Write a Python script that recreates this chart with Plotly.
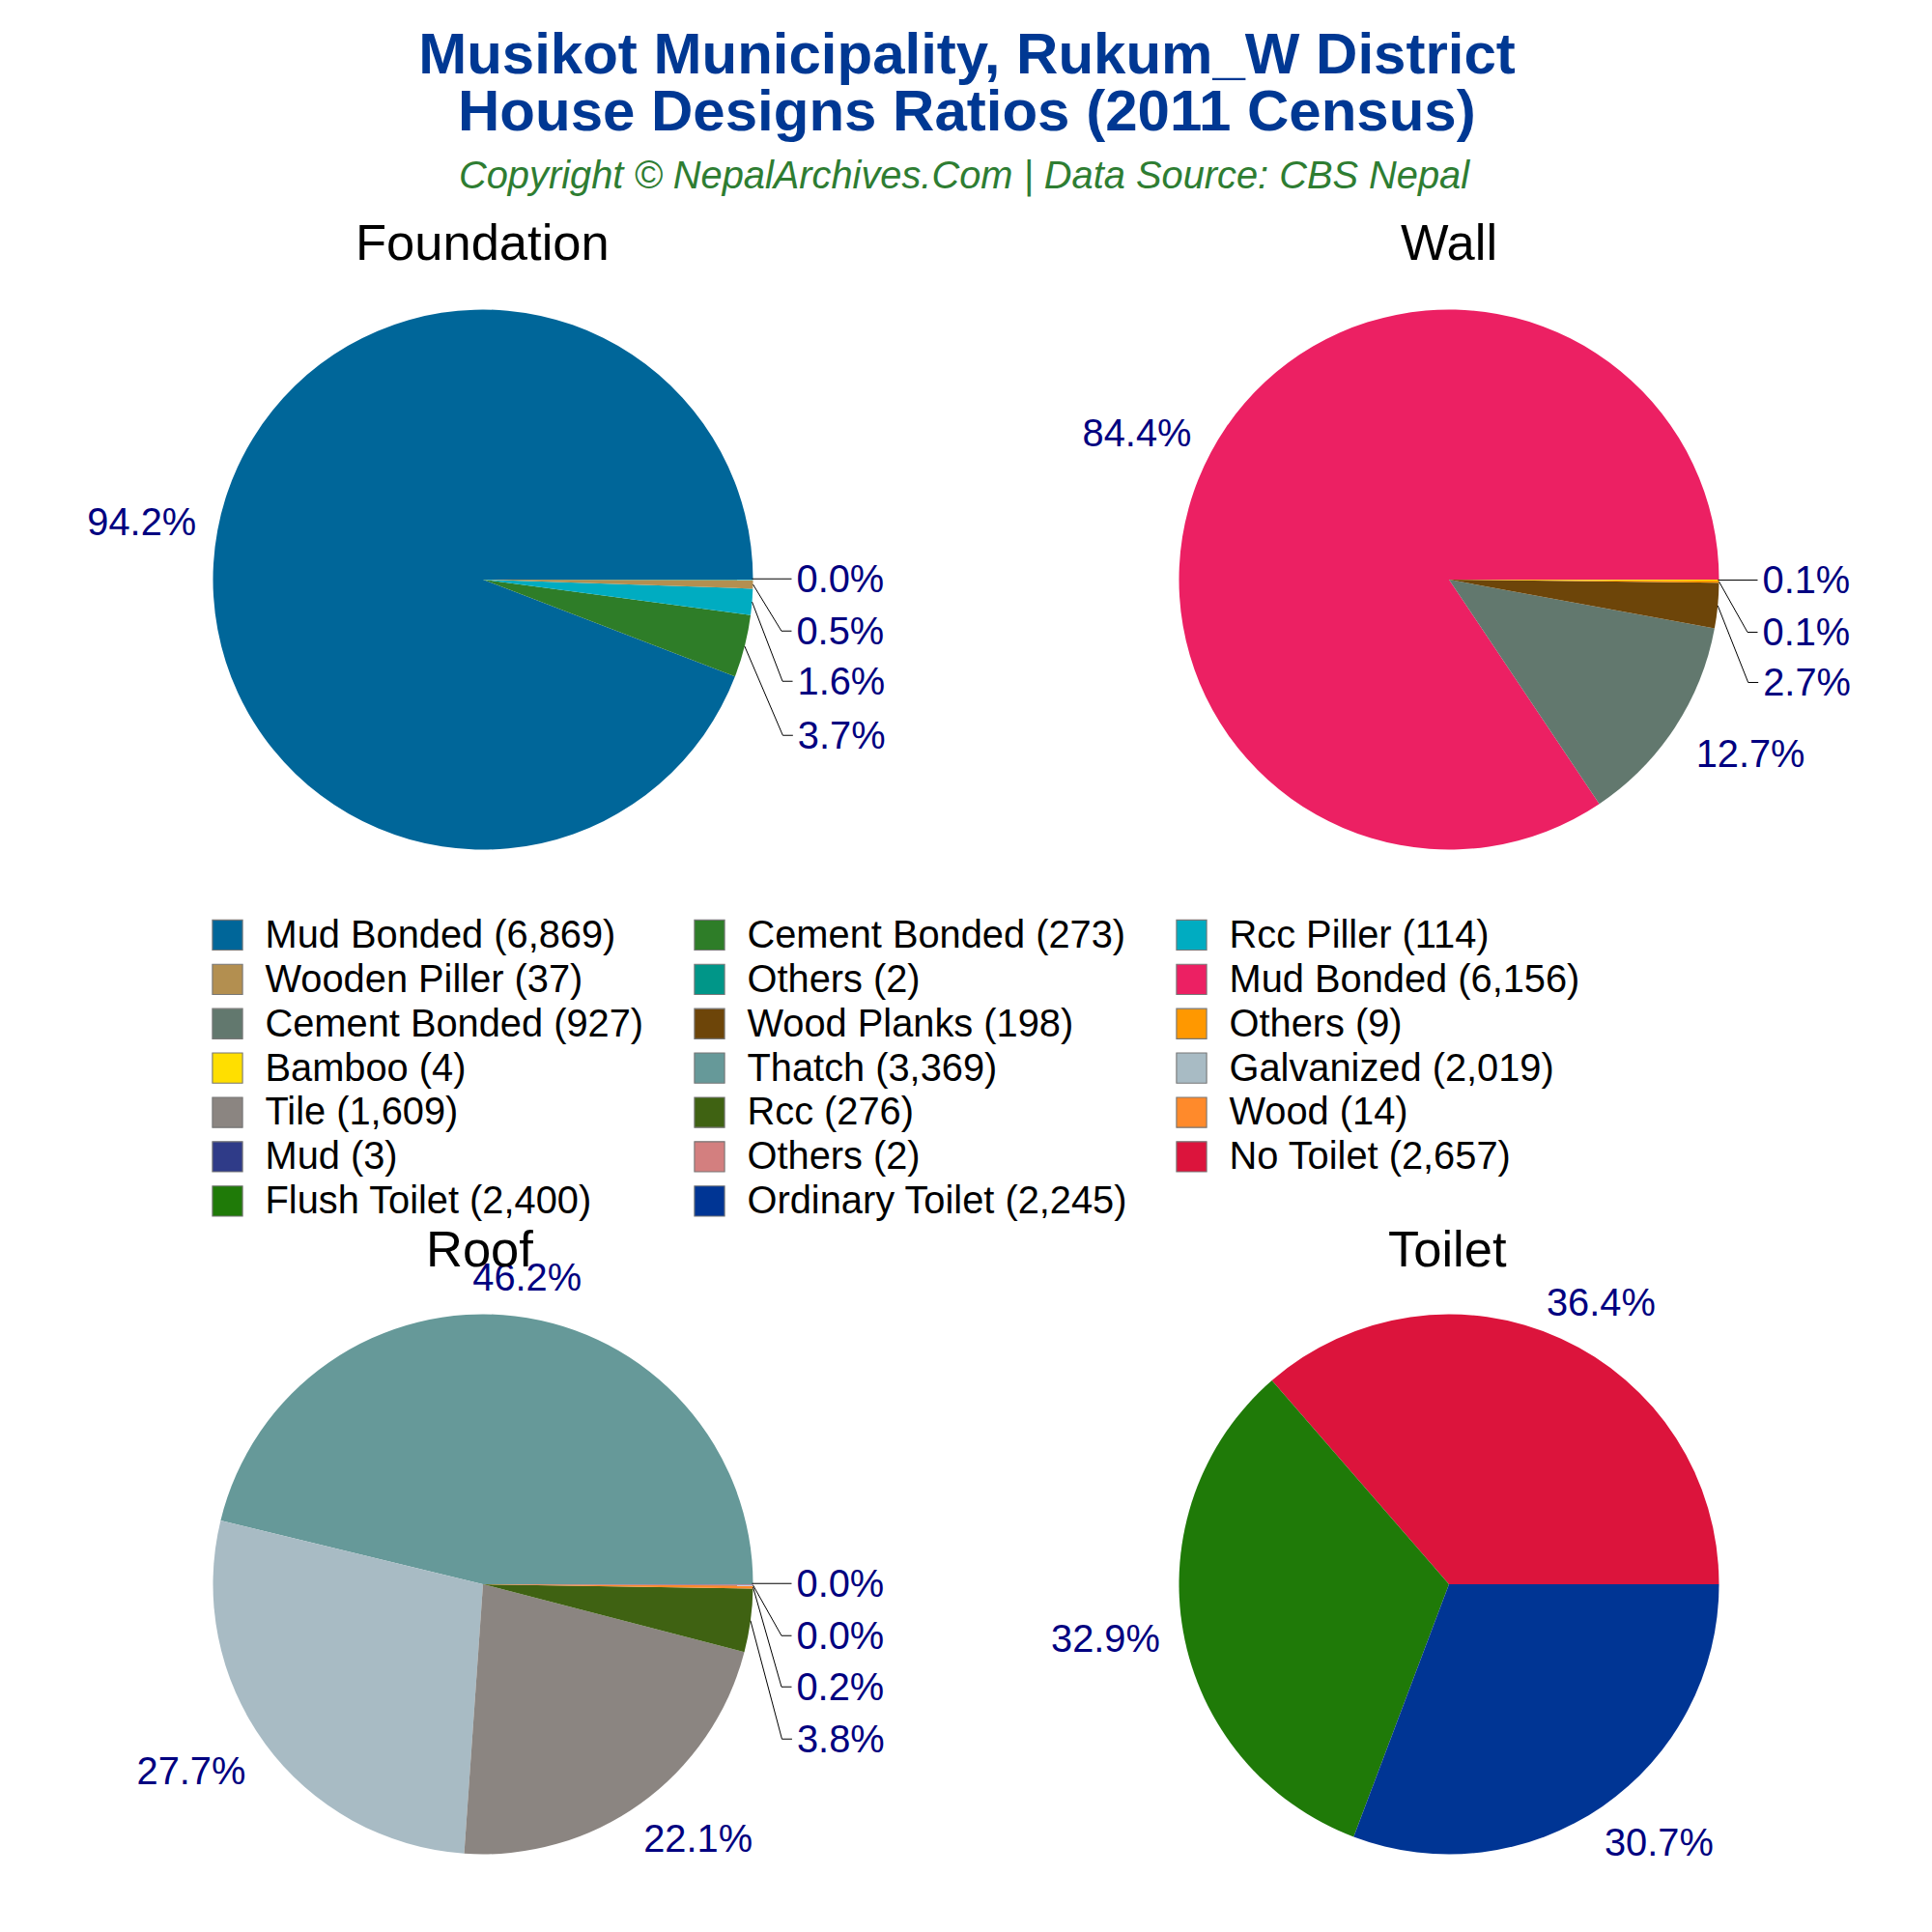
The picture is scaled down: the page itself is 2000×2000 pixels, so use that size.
import json
import plotly.graph_objects as go

title_line1 = "Musikot Municipality, Rukum_W District"
title_line2 = "House Designs Ratios (2011 Census)"
subtitle = "Copyright © NepalArchives.Com | Data Source: CBS Nepal"

foundation_labels = ["Mud Bonded (6,869)", "Cement Bonded (273)", "Rcc Piller (114)", "Wooden Piller (37)", "Others (2)"]
foundation_values = [6869, 273, 114, 37, 2]
foundation_colors = ["#006699", "#2E7D28", "#00ACC1", "#B38F50", "#009688"]

wall_labels = ["Mud Bonded (6,156)", "Cement Bonded (927)", "Wood Planks (198)", "Others (9)", "Bamboo (4)"]
wall_values = [6156, 927, 198, 9, 4]
wall_colors = ["#EC2063", "#62786E", "#6D4509", "#FF9800", "#FFDF00"]

roof_labels = ["Thatch (3,369)", "Galvanized (2,019)", "Tile (1,609)", "Rcc (276)", "Wood (14)", "Mud (3)", "Others (2)"]
roof_values = [3369, 2019, 1609, 276, 14, 3, 2]
roof_colors = ["#669999", "#A8BBC4", "#8B8581", "#3F6212", "#FF8A2B", "#2F3B88", "#D37F7F"]

toilet_labels = ["No Toilet (2,657)", "Flush Toilet (2,400)", "Ordinary Toilet (2,245)"]
toilet_values = [2657, 2400, 2245]
toilet_colors = ["#DC143C", "#1F7A08", "#003594"]

# Outward nudges of plotly's own percent labels, in slice order: [dx, dy, has connector]
foundation_nudges = [[-11, -8, 0], [44, 29, 1], [36, 17, 1], [34, 9, 1], [34, -1, 1]]
wall_nudges = [[-9, -16, 0], [11, 20, 0], [36, 18, 1], [34, 10, 1], [34, 0, 1]]
roof_nudges = [[-55, -19, 0], [-9, 20, 0], [-8, 22, 0], [37, 28, 1], [34, 18, 1], [34, 9, 1], [34, -1, 1]]
toilet_nudges = [[-26, -19, 0], [-13, 6, 0], [-9, 22, 0]]

FONT = "Liberation Sans"
W, H = 2000, 2000
ML, MR = 160, 160
GW = W - ML - MR
R = 279.5
CX = [500, 1500]
CY = [600, 1640]


def px(x):
    return (x - ML) / GW


def py(y):
    return 1 - y / H


seen = set()


def legend_text(label):
    key = label
    while key in seen:
        key += " "
    seen.add(key)
    return f"<span style='font-size:39.8px'>{label}</span>" + key[len(label):]


def pie(name, labels, values, colors, cx, cy):
    n = len(values)
    # plotly lays a counterclockwise pie so its first slice ends at the rotation angle;
    # the reference's first slice starts at 3 o'clock.
    rotation = 90 - 360 * values[0] / sum(values)
    return go.Pie(
        name=name,
        labels=[legend_text(l) for l in labels],
        values=values,
        marker=dict(colors=colors, line=dict(width=0)),
        sort=False,
        direction="counterclockwise",
        rotation=rotation,
        textposition="outside",
        texttemplate="%{percent:.1%}",
        textfont=dict(family=FONT, size=[39.8] * n, color=["#000080"] * n),
        domain=dict(x=[px(cx - R), px(cx + R)], y=[py(cy + R), py(cy - R)]),
        showlegend=True,
        hoverinfo="label+percent",
    )


fig = go.Figure([
    pie("Foundation", foundation_labels, foundation_values, foundation_colors, CX[0], CY[0]),
    pie("Wall", wall_labels, wall_values, wall_colors, CX[1], CY[0]),
    pie("Roof", roof_labels, roof_values, roof_colors, CX[0], CY[1]),
    pie("Toilet", toilet_labels, toilet_values, toilet_colors, CX[1], CY[1]),
])


def note(text, x, y, size, color="#000000"):
    return dict(text=text, x=px(x), y=py(y), xref="paper", yref="paper", xanchor="center", yanchor="middle",
                showarrow=False, font=dict(family=FONT, size=size, color=color))


annotations = [
    note(f"<b>{title_line2}</b>", 1001, 115, 60, "#003893"),
    note(f"<i>{subtitle}</i>", 998, 182, 39.8, "#2E7D32"),
    note("Foundation", 499, 251, 52.5),
    note("Wall", 1500, 251, 52.5),
    note("Roof", 496, 1292, 52.5),
    note("Toilet", 1498, 1292, 52.5),
]

fig.update_layout(
    width=W, height=H,
    margin=dict(l=ML, r=MR, t=0, b=0, pad=0),
    paper_bgcolor="#ffffff",
    font=dict(family=FONT, color="#000000"),
    title=dict(text=f"<b>{title_line1}</b>", x=px(1001), xref="paper", xanchor="center",
               y=py(55), yref="container", yanchor="middle",
               font=dict(family=FONT, size=60, color="#003893")),
    annotations=annotations,
    legend=dict(
        orientation="h", x=px(196.5), y=py(940), xanchor="left", yanchor="top",
        font=dict(family=FONT, size=33, color="#000000"),
        bgcolor="rgba(0,0,0,0)", borderwidth=0,
        itemwidth=68, entrywidth=416, entrywidthmode="pixels",
        itemclick=False, itemdoubleclick=False,
    ),
)

nudges = json.dumps([foundation_nudges, wall_nudges, roof_nudges, toilet_nudges])
post = """
document.body.style.margin = '0';
(function () {
  var gd = document.getElementById('{plot_id}');
  var NUDGES = __NUDGES__;
  var SVG = 'http://www.w3.org/2000/svg';
  function swatches() {
    gd.querySelectorAll('path.legendpie').forEach(function (p) {
      var t = p.getAttribute('data-t0');
      if (t === null) { t = p.getAttribute('transform') || ''; p.setAttribute('data-t0', t); }
      p.setAttribute('transform', t + ' scale(2.6)');
      p.style.stroke = '#777777';
      p.style.strokeWidth = '0.42px';
    });
  }
  function labels() {
    gd.querySelectorAll('.pielayer g.trace').forEach(function (tr, i) {
      tr.querySelectorAll('g.slice').forEach(function (s, j) {
        var n = NUDGES[i] && NUDGES[i][j];
        var t = s.querySelector('g.slicetext text');
        if (!n || !t) return;
        var t0 = t.getAttribute('data-t0');
        if (t0 === null) { t0 = t.getAttribute('transform') || ''; t.setAttribute('data-t0', t0); }
        t.setAttribute('transform', 'translate(' + n[0] + ',' + n[1] + ') ' + t0);
        var line = s.querySelector('path.textline');
        if (!n[2]) { if (line) line.remove(); return; }
        var r = t.getBoundingClientRect(), m = s.getScreenCTM();
        var left = r.left - m.e, midY = (r.top + r.bottom) / 2 - m.f;
        var sx = left - 46, sy = midY;
        if (line) {
          if (line.getAttribute('data-sx') === null) {
            var a = line.getPointAtLength(0);
            line.setAttribute('data-sx', a.x); line.setAttribute('data-sy', a.y);
          }
          sx = +line.getAttribute('data-sx'); sy = +line.getAttribute('data-sy');
        } else {
          line = document.createElementNS(SVG, 'path');
          line.setAttribute('class', 'textline');
          s.appendChild(line);
        }
        var end = left - 5;
        line.setAttribute('d', 'M' + sx + ',' + sy + 'L' + (end - 10.5) + ',' + midY + 'H' + end);
        line.style.fill = 'none';
        line.style.stroke = '#000000';
        line.style.strokeWidth = '1px';
      });
    });
  }
  function finish() { swatches(); labels(); }
  finish();
  gd.on('plotly_afterplot', finish);
})();
""".replace("__NUDGES__", nudges)
fig.write_html("out.html", post_script=post, config=dict(displayModeBar=False))
